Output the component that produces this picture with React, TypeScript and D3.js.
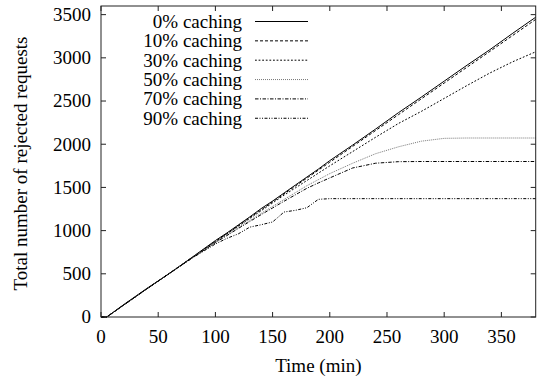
import React from "react";
import * as d3 from "d3";

// Sample times (min) shared by every series
const times = [0, 5, 20, 40, 60, 80, 100, 110, 120, 130, 140, 150, 160, 170, 180, 190, 200, 220, 240, 260, 280, 300, 320, 340, 360, 380];

// Cumulative rejected requests for each caching level
const caching0 = [0, 0, 145, 330, 505, 695, 885, 972, 1065, 1158, 1255, 1342, 1435, 1528, 1620, 1712, 1810, 1990, 2175, 2365, 2545, 2730, 2915, 3095, 3285, 3470];
const caching10 = [0, 0, 140, 325, 508, 692, 875, 966, 1058, 1150, 1240, 1332, 1425, 1516, 1608, 1700, 1792, 1975, 2158, 2342, 2525, 2708, 2892, 3075, 3260, 3445];
const caching30 = [0, 0, 140, 325, 508, 690, 870, 960, 1050, 1140, 1230, 1320, 1410, 1495, 1580, 1665, 1750, 1915, 2080, 2240, 2380, 2530, 2680, 2825, 2955, 3070];
const caching50 = [0, 0, 140, 325, 508, 688, 865, 950, 1035, 1118, 1200, 1280, 1360, 1440, 1520, 1590, 1660, 1780, 1890, 1970, 2035, 2068, 2072, 2072, 2072, 2072];
const caching70 = [0, 0, 140, 325, 508, 686, 860, 942, 1025, 1105, 1185, 1262, 1340, 1415, 1490, 1552, 1610, 1725, 1780, 1798, 1800, 1800, 1800, 1800, 1800, 1800];
const caching90 = [0, 0, 140, 325, 505, 685, 845, 910, 962, 1040, 1068, 1100, 1215, 1235, 1265, 1362, 1370, 1370, 1370, 1370, 1370, 1370, 1370, 1370, 1370, 1370];

const seriesLabels = ["0% caching", "10% caching", "30% caching", "50% caching", "70% caching", "90% caching"];
const seriesValues = [caching0, caching10, caching30, caching50, caching70, caching90];
const seriesDash = ["", "3,2", "1.8,1.8", "1,1", "3.5,1.5,1,1.5", "3,1.5,1,1.5,1,1.5"];
const seriesColor = ["#000", "#000", "#000", "#777", "#000", "#000"];

const xTicks = [0, 50, 100, 150, 200, 250, 300, 350];
const yTicks = [0, 500, 1000, 1500, 2000, 2500, 3000, 3500];

const W = 539;
const H = 381;
const left = 101;
const right = 535.7;
const top = 6;
const bottom = 317;
const tickLen = 5;
const textStyle: React.CSSProperties = {
  fontFamily: '"Liberation Serif", "Times New Roman", Times, serif',
  fontSize: "19px",
};

export default function App() {
  const x = d3.scaleLinear().domain([0, 380]).range([left, right]);
  const y = d3.scaleLinear().domain([0, 3600]).range([bottom, top]);

  const line = d3
    .line<number>()
    .x((_, i) => x(times[i]))
    .y((v) => y(v));

  const legendTextX = 242;
  const legendLineX0 = 255;
  const legendLineX1 = 308;
  const legendY0 = 21.5;
  const legendStep = 19.35;

  return (
    <svg
      width={W}
      height={H}
      style={{ position: "absolute", left: 0, top: 0, background: "#fff" }}
    >
      <rect x={0} y={0} width={W} height={H} fill="#fff" />

      {/* ticks on all four sides, pointing inward */}
      {xTicks.map((t) => (
        <g key={"xt" + t} stroke="#222" strokeWidth={1}>
          <line x1={x(t)} x2={x(t)} y1={bottom} y2={bottom - tickLen} />
          <line x1={x(t)} x2={x(t)} y1={top} y2={top + tickLen} />
        </g>
      ))}
      {yTicks.map((t) => (
        <g key={"yt" + t} stroke="#222" strokeWidth={1}>
          <line x1={left} x2={left + tickLen} y1={y(t)} y2={y(t)} />
          <line x1={right} x2={right - tickLen} y1={y(t)} y2={y(t)} />
        </g>
      ))}

      {/* tick labels */}
      {xTicks.map((t) => (
        <text key={"xl" + t} x={x(t)} y={343} textAnchor="middle" fill="#000" style={textStyle}>
          {t}
        </text>
      ))}
      {yTicks.map((t) => (
        <text key={"yl" + t} x={91} y={y(t) + 6.3} textAnchor="end" fill="#000" style={textStyle}>
          {t}
        </text>
      ))}

      {/* axis titles */}
      <text x={(left + right) / 2} y={372} textAnchor="middle" fill="#000" style={textStyle}>
        Time (min)
      </text>
      <text
        transform={`translate(27, ${(top + bottom) / 2 + 2}) rotate(-90)`}
        textAnchor="middle"
        fill="#000"
        style={textStyle}
      >
        Total number of rejected requests
      </text>

      {/* data series */}
      <g fill="none">
        {seriesValues.map((vals, i) => (
          <path
            key={"s" + i}
            d={line(vals) || ""}
            stroke={seriesColor[i]}
            strokeWidth={1}
            strokeDasharray={seriesDash[i] || undefined}
          />
        ))}
      </g>

      {/* legend */}
      {seriesLabels.map((lab, i) => {
        const ly = legendY0 + i * legendStep;
        return (
          <g key={"lg" + i}>
            <text x={legendTextX} y={ly + 6.3} textAnchor="end" fill="#000" style={textStyle}>
              {lab}
            </text>
            <line
              x1={legendLineX0}
              x2={legendLineX1}
              y1={ly}
              y2={ly}
              stroke={seriesColor[i]}
              strokeWidth={1}
              strokeDasharray={seriesDash[i] || undefined}
            />
          </g>
        );
      })}

      {/* frame */}
      <rect
        x={left}
        y={top}
        width={right - left}
        height={bottom - top}
        fill="none"
        stroke="#222"
        strokeWidth={1}
      />
    </svg>
  );
}
